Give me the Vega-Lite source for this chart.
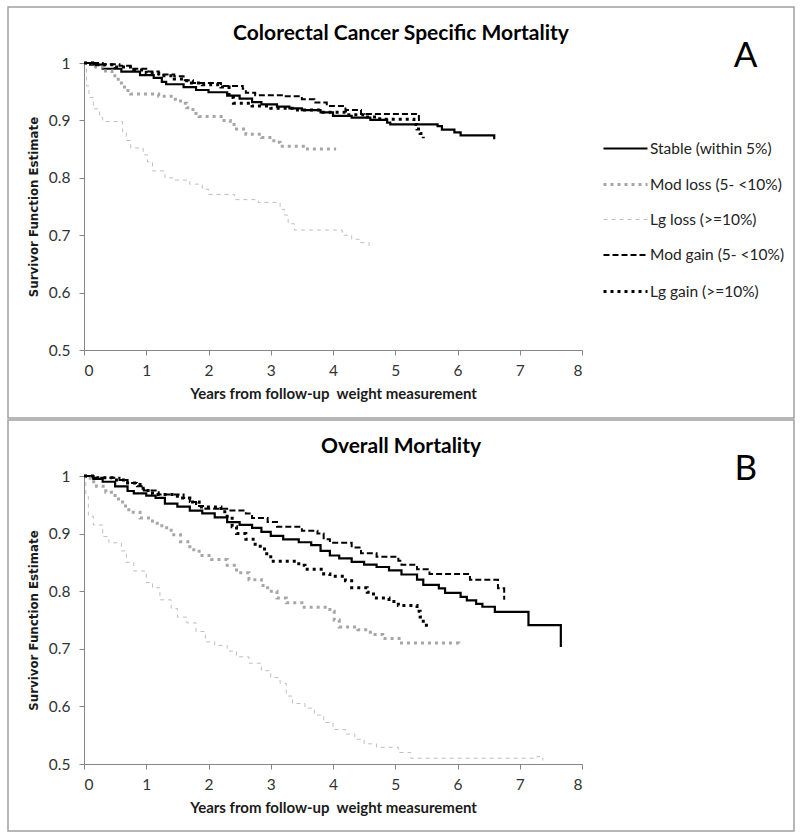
{
  "$schema": "https://vega.github.io/schema/vega-lite/v6.json",
  "padding": {"left": 7, "top": 6, "right": 0, "bottom": 0},
  "background": "white",
  "spacing": 0,
  "config": {
    "view": {"stroke": "#a0a0a0", "strokeWidth": 1.5},
    "axis": {"grid": false, "domainColor": "#868686", "tickColor": "#868686", "tickSize": 5, "labelFont": "Lato", "labelFontSize": 15.5, "labelColor": "#333333", "titleColor": "#1a1a1a"}
  },
  "datasets": {
    "km": [
      {"panel":"A","group":"Stable (within 5%)","years":0,"surv":1},
      {"panel":"A","group":"Stable (within 5%)","years":0.1,"surv":0.997},
      {"panel":"A","group":"Stable (within 5%)","years":0.3,"surv":0.99},
      {"panel":"A","group":"Stable (within 5%)","years":0.6,"surv":0.985},
      {"panel":"A","group":"Stable (within 5%)","years":0.9,"surv":0.979},
      {"panel":"A","group":"Stable (within 5%)","years":1.12,"surv":0.974},
      {"panel":"A","group":"Stable (within 5%)","years":1.25,"surv":0.967},
      {"panel":"A","group":"Stable (within 5%)","years":1.32,"surv":0.963},
      {"panel":"A","group":"Stable (within 5%)","years":1.6,"surv":0.958},
      {"panel":"A","group":"Stable (within 5%)","years":1.8,"surv":0.953},
      {"panel":"A","group":"Stable (within 5%)","years":2.0,"surv":0.949},
      {"panel":"A","group":"Stable (within 5%)","years":2.3,"surv":0.943},
      {"panel":"A","group":"Stable (within 5%)","years":2.5,"surv":0.938},
      {"panel":"A","group":"Stable (within 5%)","years":2.7,"surv":0.932},
      {"panel":"A","group":"Stable (within 5%)","years":2.85,"surv":0.928},
      {"panel":"A","group":"Stable (within 5%)","years":3.1,"surv":0.924},
      {"panel":"A","group":"Stable (within 5%)","years":3.3,"surv":0.921},
      {"panel":"A","group":"Stable (within 5%)","years":3.5,"surv":0.918},
      {"panel":"A","group":"Stable (within 5%)","years":3.8,"surv":0.914},
      {"panel":"A","group":"Stable (within 5%)","years":4.0,"surv":0.908},
      {"panel":"A","group":"Stable (within 5%)","years":4.3,"surv":0.905},
      {"panel":"A","group":"Stable (within 5%)","years":4.6,"surv":0.901},
      {"panel":"A","group":"Stable (within 5%)","years":4.87,"surv":0.896},
      {"panel":"A","group":"Stable (within 5%)","years":4.92,"surv":0.893},
      {"panel":"A","group":"Stable (within 5%)","years":5.68,"surv":0.89},
      {"panel":"A","group":"Stable (within 5%)","years":5.75,"surv":0.884},
      {"panel":"A","group":"Stable (within 5%)","years":5.95,"surv":0.879},
      {"panel":"A","group":"Stable (within 5%)","years":6.05,"surv":0.874},
      {"panel":"A","group":"Stable (within 5%)","years":6.59,"surv":0.867},

      {"panel":"A","group":"Mod loss (5- <10%)","years":0,"surv":1},
      {"panel":"A","group":"Mod loss (5- <10%)","years":0.15,"surv":0.993},
      {"panel":"A","group":"Mod loss (5- <10%)","years":0.32,"surv":0.986},
      {"panel":"A","group":"Mod loss (5- <10%)","years":0.45,"surv":0.978},
      {"panel":"A","group":"Mod loss (5- <10%)","years":0.55,"surv":0.965},
      {"panel":"A","group":"Mod loss (5- <10%)","years":0.65,"surv":0.952},
      {"panel":"A","group":"Mod loss (5- <10%)","years":0.75,"surv":0.946},
      {"panel":"A","group":"Mod loss (5- <10%)","years":1.2,"surv":0.942},
      {"panel":"A","group":"Mod loss (5- <10%)","years":1.4,"surv":0.937},
      {"panel":"A","group":"Mod loss (5- <10%)","years":1.55,"surv":0.93},
      {"panel":"A","group":"Mod loss (5- <10%)","years":1.65,"surv":0.922},
      {"panel":"A","group":"Mod loss (5- <10%)","years":1.75,"surv":0.912},
      {"panel":"A","group":"Mod loss (5- <10%)","years":1.85,"surv":0.907},
      {"panel":"A","group":"Mod loss (5- <10%)","years":2.25,"surv":0.9},
      {"panel":"A","group":"Mod loss (5- <10%)","years":2.35,"surv":0.893},
      {"panel":"A","group":"Mod loss (5- <10%)","years":2.45,"surv":0.885},
      {"panel":"A","group":"Mod loss (5- <10%)","years":2.6,"surv":0.876},
      {"panel":"A","group":"Mod loss (5- <10%)","years":2.85,"surv":0.87},
      {"panel":"A","group":"Mod loss (5- <10%)","years":3.05,"surv":0.862},
      {"panel":"A","group":"Mod loss (5- <10%)","years":3.15,"surv":0.855},
      {"panel":"A","group":"Mod loss (5- <10%)","years":3.55,"surv":0.85},
      {"panel":"A","group":"Mod loss (5- <10%)","years":4.05,"surv":0.85},

      {"panel":"A","group":"Lg loss (>=10%)","years":0,"surv":1},
      {"panel":"A","group":"Lg loss (>=10%)","years":0.04,"surv":0.96},
      {"panel":"A","group":"Lg loss (>=10%)","years":0.08,"surv":0.94},
      {"panel":"A","group":"Lg loss (>=10%)","years":0.15,"surv":0.92},
      {"panel":"A","group":"Lg loss (>=10%)","years":0.25,"surv":0.905},
      {"panel":"A","group":"Lg loss (>=10%)","years":0.3,"surv":0.898},
      {"panel":"A","group":"Lg loss (>=10%)","years":0.62,"surv":0.88},
      {"panel":"A","group":"Lg loss (>=10%)","years":0.68,"surv":0.865},
      {"panel":"A","group":"Lg loss (>=10%)","years":0.75,"surv":0.852},
      {"panel":"A","group":"Lg loss (>=10%)","years":0.95,"surv":0.84},
      {"panel":"A","group":"Lg loss (>=10%)","years":1.02,"surv":0.828},
      {"panel":"A","group":"Lg loss (>=10%)","years":1.1,"surv":0.812},
      {"panel":"A","group":"Lg loss (>=10%)","years":1.3,"surv":0.8},
      {"panel":"A","group":"Lg loss (>=10%)","years":1.45,"surv":0.796},
      {"panel":"A","group":"Lg loss (>=10%)","years":1.7,"surv":0.789},
      {"panel":"A","group":"Lg loss (>=10%)","years":1.9,"surv":0.78},
      {"panel":"A","group":"Lg loss (>=10%)","years":2.0,"surv":0.771},
      {"panel":"A","group":"Lg loss (>=10%)","years":2.42,"surv":0.762},
      {"panel":"A","group":"Lg loss (>=10%)","years":2.8,"surv":0.757},
      {"panel":"A","group":"Lg loss (>=10%)","years":3.15,"surv":0.745},
      {"panel":"A","group":"Lg loss (>=10%)","years":3.22,"surv":0.735},
      {"panel":"A","group":"Lg loss (>=10%)","years":3.28,"surv":0.72},
      {"panel":"A","group":"Lg loss (>=10%)","years":3.38,"surv":0.709},
      {"panel":"A","group":"Lg loss (>=10%)","years":4.15,"surv":0.7},
      {"panel":"A","group":"Lg loss (>=10%)","years":4.3,"surv":0.693},
      {"panel":"A","group":"Lg loss (>=10%)","years":4.42,"surv":0.687},
      {"panel":"A","group":"Lg loss (>=10%)","years":4.58,"surv":0.678},

      {"panel":"A","group":"Mod gain (5- <10%)","years":0,"surv":1},
      {"panel":"A","group":"Mod gain (5- <10%)","years":0.3,"surv":0.998},
      {"panel":"A","group":"Mod gain (5- <10%)","years":0.57,"surv":0.995},
      {"panel":"A","group":"Mod gain (5- <10%)","years":0.75,"surv":0.99},
      {"panel":"A","group":"Mod gain (5- <10%)","years":1.0,"surv":0.985},
      {"panel":"A","group":"Mod gain (5- <10%)","years":1.2,"surv":0.98},
      {"panel":"A","group":"Mod gain (5- <10%)","years":1.45,"surv":0.977},
      {"panel":"A","group":"Mod gain (5- <10%)","years":1.6,"surv":0.97},
      {"panel":"A","group":"Mod gain (5- <10%)","years":1.75,"surv":0.965},
      {"panel":"A","group":"Mod gain (5- <10%)","years":2.2,"surv":0.96},
      {"panel":"A","group":"Mod gain (5- <10%)","years":2.55,"surv":0.955},
      {"panel":"A","group":"Mod gain (5- <10%)","years":2.6,"surv":0.948},
      {"panel":"A","group":"Mod gain (5- <10%)","years":2.75,"surv":0.944},
      {"panel":"A","group":"Mod gain (5- <10%)","years":3.2,"surv":0.942},
      {"panel":"A","group":"Mod gain (5- <10%)","years":3.5,"surv":0.937},
      {"panel":"A","group":"Mod gain (5- <10%)","years":3.7,"surv":0.931},
      {"panel":"A","group":"Mod gain (5- <10%)","years":3.9,"surv":0.925},
      {"panel":"A","group":"Mod gain (5- <10%)","years":4.2,"surv":0.918},
      {"panel":"A","group":"Mod gain (5- <10%)","years":4.45,"surv":0.911},
      {"panel":"A","group":"Mod gain (5- <10%)","years":5.38,"surv":0.899},

      {"panel":"A","group":"Lg gain (>=10%)","years":0,"surv":1},
      {"panel":"A","group":"Lg gain (>=10%)","years":0.2,"surv":0.997},
      {"panel":"A","group":"Lg gain (>=10%)","years":0.5,"surv":0.993},
      {"panel":"A","group":"Lg gain (>=10%)","years":0.8,"surv":0.988},
      {"panel":"A","group":"Lg gain (>=10%)","years":1.0,"surv":0.982},
      {"panel":"A","group":"Lg gain (>=10%)","years":1.2,"surv":0.978},
      {"panel":"A","group":"Lg gain (>=10%)","years":1.45,"surv":0.972},
      {"panel":"A","group":"Lg gain (>=10%)","years":1.65,"surv":0.965},
      {"panel":"A","group":"Lg gain (>=10%)","years":1.9,"surv":0.962},
      {"panel":"A","group":"Lg gain (>=10%)","years":2.2,"surv":0.958},
      {"panel":"A","group":"Lg gain (>=10%)","years":2.33,"surv":0.94},
      {"panel":"A","group":"Lg gain (>=10%)","years":2.4,"surv":0.93},
      {"panel":"A","group":"Lg gain (>=10%)","years":2.7,"surv":0.925},
      {"panel":"A","group":"Lg gain (>=10%)","years":3.0,"surv":0.921},
      {"panel":"A","group":"Lg gain (>=10%)","years":3.4,"surv":0.918},
      {"panel":"A","group":"Lg gain (>=10%)","years":3.8,"surv":0.914},
      {"panel":"A","group":"Lg gain (>=10%)","years":4.2,"surv":0.91},
      {"panel":"A","group":"Lg gain (>=10%)","years":4.5,"surv":0.906},
      {"panel":"A","group":"Lg gain (>=10%)","years":4.75,"surv":0.902},
      {"panel":"A","group":"Lg gain (>=10%)","years":5.3,"surv":0.893},
      {"panel":"A","group":"Lg gain (>=10%)","years":5.35,"surv":0.885},
      {"panel":"A","group":"Lg gain (>=10%)","years":5.4,"surv":0.877},
      {"panel":"A","group":"Lg gain (>=10%)","years":5.45,"surv":0.869},

      {"panel":"B","group":"Stable (within 5%)","years":0,"surv":1},
      {"panel":"B","group":"Stable (within 5%)","years":0.15,"surv":0.995},
      {"panel":"B","group":"Stable (within 5%)","years":0.3,"surv":0.99},
      {"panel":"B","group":"Stable (within 5%)","years":0.5,"surv":0.982},
      {"panel":"B","group":"Stable (within 5%)","years":0.7,"surv":0.974},
      {"panel":"B","group":"Stable (within 5%)","years":0.8,"surv":0.97},
      {"panel":"B","group":"Stable (within 5%)","years":1.0,"surv":0.966},
      {"panel":"B","group":"Stable (within 5%)","years":1.15,"surv":0.962},
      {"panel":"B","group":"Stable (within 5%)","years":1.3,"surv":0.952},
      {"panel":"B","group":"Stable (within 5%)","years":1.5,"surv":0.947},
      {"panel":"B","group":"Stable (within 5%)","years":1.7,"surv":0.94},
      {"panel":"B","group":"Stable (within 5%)","years":1.9,"surv":0.935},
      {"panel":"B","group":"Stable (within 5%)","years":2.1,"surv":0.928},
      {"panel":"B","group":"Stable (within 5%)","years":2.3,"surv":0.92},
      {"panel":"B","group":"Stable (within 5%)","years":2.5,"surv":0.915},
      {"panel":"B","group":"Stable (within 5%)","years":2.7,"surv":0.91},
      {"panel":"B","group":"Stable (within 5%)","years":2.85,"surv":0.903},
      {"panel":"B","group":"Stable (within 5%)","years":3.0,"surv":0.896},
      {"panel":"B","group":"Stable (within 5%)","years":3.2,"surv":0.89},
      {"panel":"B","group":"Stable (within 5%)","years":3.45,"surv":0.885},
      {"panel":"B","group":"Stable (within 5%)","years":3.65,"surv":0.88},
      {"panel":"B","group":"Stable (within 5%)","years":3.8,"surv":0.87},
      {"panel":"B","group":"Stable (within 5%)","years":3.95,"surv":0.862},
      {"panel":"B","group":"Stable (within 5%)","years":4.1,"surv":0.857},
      {"panel":"B","group":"Stable (within 5%)","years":4.3,"surv":0.851},
      {"panel":"B","group":"Stable (within 5%)","years":4.5,"surv":0.846},
      {"panel":"B","group":"Stable (within 5%)","years":4.7,"surv":0.842},
      {"panel":"B","group":"Stable (within 5%)","years":4.9,"surv":0.836},
      {"panel":"B","group":"Stable (within 5%)","years":5.1,"surv":0.829},
      {"panel":"B","group":"Stable (within 5%)","years":5.35,"surv":0.82},
      {"panel":"B","group":"Stable (within 5%)","years":5.45,"surv":0.811},
      {"panel":"B","group":"Stable (within 5%)","years":5.7,"surv":0.805},
      {"panel":"B","group":"Stable (within 5%)","years":5.8,"surv":0.797},
      {"panel":"B","group":"Stable (within 5%)","years":6.05,"surv":0.79},
      {"panel":"B","group":"Stable (within 5%)","years":6.15,"surv":0.784},
      {"panel":"B","group":"Stable (within 5%)","years":6.3,"surv":0.778},
      {"panel":"B","group":"Stable (within 5%)","years":6.4,"surv":0.773},
      {"panel":"B","group":"Stable (within 5%)","years":6.6,"surv":0.764},
      {"panel":"B","group":"Stable (within 5%)","years":7.14,"surv":0.741},
      {"panel":"B","group":"Stable (within 5%)","years":7.66,"surv":0.703},

      {"panel":"B","group":"Mod loss (5- <10%)","years":0,"surv":1},
      {"panel":"B","group":"Mod loss (5- <10%)","years":0.1,"surv":0.99},
      {"panel":"B","group":"Mod loss (5- <10%)","years":0.2,"surv":0.982},
      {"panel":"B","group":"Mod loss (5- <10%)","years":0.35,"surv":0.972},
      {"panel":"B","group":"Mod loss (5- <10%)","years":0.5,"surv":0.96},
      {"panel":"B","group":"Mod loss (5- <10%)","years":0.62,"surv":0.948},
      {"panel":"B","group":"Mod loss (5- <10%)","years":0.72,"surv":0.937},
      {"panel":"B","group":"Mod loss (5- <10%)","years":0.9,"surv":0.927},
      {"panel":"B","group":"Mod loss (5- <10%)","years":1.1,"surv":0.918},
      {"panel":"B","group":"Mod loss (5- <10%)","years":1.25,"surv":0.91},
      {"panel":"B","group":"Mod loss (5- <10%)","years":1.4,"surv":0.898},
      {"panel":"B","group":"Mod loss (5- <10%)","years":1.55,"surv":0.886},
      {"panel":"B","group":"Mod loss (5- <10%)","years":1.7,"surv":0.872},
      {"panel":"B","group":"Mod loss (5- <10%)","years":1.85,"surv":0.862},
      {"panel":"B","group":"Mod loss (5- <10%)","years":2.05,"surv":0.855},
      {"panel":"B","group":"Mod loss (5- <10%)","years":2.3,"surv":0.845},
      {"panel":"B","group":"Mod loss (5- <10%)","years":2.45,"surv":0.832},
      {"panel":"B","group":"Mod loss (5- <10%)","years":2.65,"surv":0.82},
      {"panel":"B","group":"Mod loss (5- <10%)","years":2.85,"surv":0.81},
      {"panel":"B","group":"Mod loss (5- <10%)","years":2.95,"surv":0.8},
      {"panel":"B","group":"Mod loss (5- <10%)","years":3.1,"surv":0.788},
      {"panel":"B","group":"Mod loss (5- <10%)","years":3.25,"surv":0.78},
      {"panel":"B","group":"Mod loss (5- <10%)","years":3.5,"surv":0.772},
      {"panel":"B","group":"Mod loss (5- <10%)","years":3.95,"surv":0.765},
      {"panel":"B","group":"Mod loss (5- <10%)","years":4.02,"surv":0.75},
      {"panel":"B","group":"Mod loss (5- <10%)","years":4.1,"surv":0.738},
      {"panel":"B","group":"Mod loss (5- <10%)","years":4.4,"surv":0.733},
      {"panel":"B","group":"Mod loss (5- <10%)","years":4.6,"surv":0.725},
      {"panel":"B","group":"Mod loss (5- <10%)","years":4.8,"surv":0.718},
      {"panel":"B","group":"Mod loss (5- <10%)","years":5.1,"surv":0.71},
      {"panel":"B","group":"Mod loss (5- <10%)","years":6.02,"surv":0.704},

      {"panel":"B","group":"Lg loss (>=10%)","years":0,"surv":1},
      {"panel":"B","group":"Lg loss (>=10%)","years":0.03,"surv":0.965},
      {"panel":"B","group":"Lg loss (>=10%)","years":0.07,"surv":0.93},
      {"panel":"B","group":"Lg loss (>=10%)","years":0.15,"surv":0.915},
      {"panel":"B","group":"Lg loss (>=10%)","years":0.3,"surv":0.895},
      {"panel":"B","group":"Lg loss (>=10%)","years":0.4,"surv":0.884},
      {"panel":"B","group":"Lg loss (>=10%)","years":0.6,"surv":0.87},
      {"panel":"B","group":"Lg loss (>=10%)","years":0.68,"surv":0.85},
      {"panel":"B","group":"Lg loss (>=10%)","years":0.8,"surv":0.835},
      {"panel":"B","group":"Lg loss (>=10%)","years":1.0,"surv":0.815},
      {"panel":"B","group":"Lg loss (>=10%)","years":1.1,"surv":0.806},
      {"panel":"B","group":"Lg loss (>=10%)","years":1.22,"surv":0.785},
      {"panel":"B","group":"Lg loss (>=10%)","years":1.4,"surv":0.77},
      {"panel":"B","group":"Lg loss (>=10%)","years":1.5,"surv":0.755},
      {"panel":"B","group":"Lg loss (>=10%)","years":1.65,"surv":0.745},
      {"panel":"B","group":"Lg loss (>=10%)","years":1.8,"surv":0.73},
      {"panel":"B","group":"Lg loss (>=10%)","years":1.95,"surv":0.712},
      {"panel":"B","group":"Lg loss (>=10%)","years":2.1,"surv":0.706},
      {"panel":"B","group":"Lg loss (>=10%)","years":2.3,"surv":0.696},
      {"panel":"B","group":"Lg loss (>=10%)","years":2.45,"surv":0.686},
      {"panel":"B","group":"Lg loss (>=10%)","years":2.65,"surv":0.675},
      {"panel":"B","group":"Lg loss (>=10%)","years":2.85,"surv":0.662},
      {"panel":"B","group":"Lg loss (>=10%)","years":3.0,"surv":0.65},
      {"panel":"B","group":"Lg loss (>=10%)","years":3.15,"surv":0.64},
      {"panel":"B","group":"Lg loss (>=10%)","years":3.25,"surv":0.618},
      {"panel":"B","group":"Lg loss (>=10%)","years":3.35,"surv":0.605},
      {"panel":"B","group":"Lg loss (>=10%)","years":3.55,"surv":0.597},
      {"panel":"B","group":"Lg loss (>=10%)","years":3.7,"surv":0.585},
      {"panel":"B","group":"Lg loss (>=10%)","years":3.85,"surv":0.572},
      {"panel":"B","group":"Lg loss (>=10%)","years":4.0,"surv":0.56},
      {"panel":"B","group":"Lg loss (>=10%)","years":4.2,"surv":0.552},
      {"panel":"B","group":"Lg loss (>=10%)","years":4.35,"surv":0.543},
      {"panel":"B","group":"Lg loss (>=10%)","years":4.5,"surv":0.535},
      {"panel":"B","group":"Lg loss (>=10%)","years":4.7,"surv":0.529},
      {"panel":"B","group":"Lg loss (>=10%)","years":5.05,"surv":0.52},
      {"panel":"B","group":"Lg loss (>=10%)","years":5.25,"surv":0.51},
      {"panel":"B","group":"Lg loss (>=10%)","years":7.28,"surv":0.513},
      {"panel":"B","group":"Lg loss (>=10%)","years":7.37,"surv":0.506},

      {"panel":"B","group":"Mod gain (5- <10%)","years":0,"surv":1},
      {"panel":"B","group":"Mod gain (5- <10%)","years":0.15,"surv":0.997},
      {"panel":"B","group":"Mod gain (5- <10%)","years":0.57,"surv":0.993},
      {"panel":"B","group":"Mod gain (5- <10%)","years":0.7,"surv":0.988},
      {"panel":"B","group":"Mod gain (5- <10%)","years":0.85,"surv":0.982},
      {"panel":"B","group":"Mod gain (5- <10%)","years":0.96,"surv":0.975},
      {"panel":"B","group":"Mod gain (5- <10%)","years":1.2,"surv":0.968},
      {"panel":"B","group":"Mod gain (5- <10%)","years":1.6,"surv":0.962},
      {"panel":"B","group":"Mod gain (5- <10%)","years":1.7,"surv":0.955},
      {"panel":"B","group":"Mod gain (5- <10%)","years":1.8,"surv":0.948},
      {"panel":"B","group":"Mod gain (5- <10%)","years":1.95,"surv":0.943},
      {"panel":"B","group":"Mod gain (5- <10%)","years":2.3,"surv":0.94},
      {"panel":"B","group":"Mod gain (5- <10%)","years":2.6,"surv":0.935},
      {"panel":"B","group":"Mod gain (5- <10%)","years":2.7,"surv":0.927},
      {"panel":"B","group":"Mod gain (5- <10%)","years":2.95,"surv":0.92},
      {"panel":"B","group":"Mod gain (5- <10%)","years":3.1,"surv":0.912},
      {"panel":"B","group":"Mod gain (5- <10%)","years":3.5,"surv":0.905},
      {"panel":"B","group":"Mod gain (5- <10%)","years":3.75,"surv":0.9},
      {"panel":"B","group":"Mod gain (5- <10%)","years":3.85,"surv":0.89},
      {"panel":"B","group":"Mod gain (5- <10%)","years":3.95,"surv":0.884},
      {"panel":"B","group":"Mod gain (5- <10%)","years":4.3,"surv":0.876},
      {"panel":"B","group":"Mod gain (5- <10%)","years":4.45,"surv":0.866},
      {"panel":"B","group":"Mod gain (5- <10%)","years":4.7,"surv":0.86},
      {"panel":"B","group":"Mod gain (5- <10%)","years":5.05,"surv":0.853},
      {"panel":"B","group":"Mod gain (5- <10%)","years":5.1,"surv":0.846},
      {"panel":"B","group":"Mod gain (5- <10%)","years":5.35,"surv":0.838},
      {"panel":"B","group":"Mod gain (5- <10%)","years":5.55,"surv":0.83},
      {"panel":"B","group":"Mod gain (5- <10%)","years":6.2,"surv":0.82},
      {"panel":"B","group":"Mod gain (5- <10%)","years":6.65,"surv":0.805},
      {"panel":"B","group":"Mod gain (5- <10%)","years":6.75,"surv":0.785},

      {"panel":"B","group":"Lg gain (>=10%)","years":0,"surv":1},
      {"panel":"B","group":"Lg gain (>=10%)","years":0.2,"surv":0.997},
      {"panel":"B","group":"Lg gain (>=10%)","years":0.45,"surv":0.993},
      {"panel":"B","group":"Lg gain (>=10%)","years":0.7,"surv":0.988},
      {"panel":"B","group":"Lg gain (>=10%)","years":0.9,"surv":0.982},
      {"panel":"B","group":"Lg gain (>=10%)","years":0.95,"surv":0.975},
      {"panel":"B","group":"Lg gain (>=10%)","years":1.1,"surv":0.968},
      {"panel":"B","group":"Lg gain (>=10%)","years":1.5,"surv":0.962},
      {"panel":"B","group":"Lg gain (>=10%)","years":1.7,"surv":0.955},
      {"panel":"B","group":"Lg gain (>=10%)","years":1.85,"surv":0.946},
      {"panel":"B","group":"Lg gain (>=10%)","years":2.2,"surv":0.938},
      {"panel":"B","group":"Lg gain (>=10%)","years":2.3,"surv":0.93},
      {"panel":"B","group":"Lg gain (>=10%)","years":2.38,"surv":0.912},
      {"panel":"B","group":"Lg gain (>=10%)","years":2.45,"surv":0.9},
      {"panel":"B","group":"Lg gain (>=10%)","years":2.6,"surv":0.89},
      {"panel":"B","group":"Lg gain (>=10%)","years":2.75,"surv":0.878},
      {"panel":"B","group":"Lg gain (>=10%)","years":2.9,"surv":0.865},
      {"panel":"B","group":"Lg gain (>=10%)","years":3.0,"surv":0.852},
      {"panel":"B","group":"Lg gain (>=10%)","years":3.45,"surv":0.845},
      {"panel":"B","group":"Lg gain (>=10%)","years":3.55,"surv":0.838},
      {"panel":"B","group":"Lg gain (>=10%)","years":3.85,"surv":0.83},
      {"panel":"B","group":"Lg gain (>=10%)","years":3.95,"surv":0.826},
      {"panel":"B","group":"Lg gain (>=10%)","years":4.2,"surv":0.818},
      {"panel":"B","group":"Lg gain (>=10%)","years":4.3,"surv":0.806},
      {"panel":"B","group":"Lg gain (>=10%)","years":4.55,"surv":0.798},
      {"panel":"B","group":"Lg gain (>=10%)","years":4.65,"surv":0.788},
      {"panel":"B","group":"Lg gain (>=10%)","years":4.9,"surv":0.782},
      {"panel":"B","group":"Lg gain (>=10%)","years":5.05,"surv":0.775},
      {"panel":"B","group":"Lg gain (>=10%)","years":5.35,"surv":0.765},
      {"panel":"B","group":"Lg gain (>=10%)","years":5.4,"surv":0.755},
      {"panel":"B","group":"Lg gain (>=10%)","years":5.45,"surv":0.745},
      {"panel":"B","group":"Lg gain (>=10%)","years":5.5,"surv":0.736}
    ]
  },
  "vconcat": [
    {
      "width": 786, "height": 411,
      "title": {"text": "Colorectal Cancer Specific Mortality", "anchor": "middle", "frame": "group", "offset": -37, "font": "Lato", "fontSize": 21, "fontWeight": "bold", "color": "#000000"},
      "layer": [
        {
          "data": {"name": "km"},
          "transform": [{"filter": "datum.panel === 'A'"}],
          "mark": {"type": "line", "interpolate": "step-after"},
          "encoding": {
            "x": {"field": "years", "type": "quantitative", "scale": {"domain": [0, 8], "range": [76, 574], "nice": false, "zero": false},
                  "axis": {"offset": -68, "values": [0,1,2,3,4,5,6,7,8], "format": "d", "labelPadding": 8, "title": "Years from follow-up\u00a0 weight measurement", "titleFont": "Lato", "titleFontSize": 15, "titleFontWeight": "bold", "titlePadding": 8}},
            "y": {"field": "surv", "type": "quantitative", "scale": {"domain": [0.5, 1], "range": [343, 56], "nice": false, "zero": false},
                  "axis": {"offset": -76, "values": [0.5,0.6,0.7,0.8,0.9,1], "labelExpr": "datum.value == 1 ? '1' : format(datum.value, '.1f')", "labelPadding": 9, "title": "Survivor Function Estimate", "titleFont": "DejaVu Sans", "titleFontSize": 11.8, "titleFontWeight": "bold", "titlePadding": 9}},
            "color": {"field": "group", "type": "nominal",
                      "scale": {"domain": ["Stable (within 5%)", "Mod loss (5- <10%)", "Lg loss (>=10%)", "Mod gain (5- <10%)", "Lg gain (>=10%)"], "range": ["#000000", "#a6a6a6", "#bfbfbf", "#000000", "#000000"]},
                      "legend": {"orient": "none", "legendX": 594, "legendY": 118, "title": null, "symbolType": "stroke", "symbolSize": 1936, "labelFont": "Lato", "labelFontSize": 15.5, "labelColor": "#222222", "labelOffset": 1, "rowPadding": 4, "padding": 0}},
            "strokeDash": {"field": "group", "type": "nominal",
                      "scale": {"domain": ["Stable (within 5%)", "Mod loss (5- <10%)", "Lg loss (>=10%)", "Mod gain (5- <10%)", "Lg gain (>=10%)"], "range": [[1,0],[3,4],[4,4],[6,3],[3,4]]}},
            "strokeWidth": {"field": "group", "type": "nominal",
                      "scale": {"type": "ordinal", "domain": ["Stable (within 5%)", "Mod loss (5- <10%)", "Lg loss (>=10%)", "Mod gain (5- <10%)", "Lg gain (>=10%)"], "range": [2.2, 3, 1, 2, 3]}}
          }
        },
        {
          "data": {"values": [{"label": "A"}]},
          "mark": {"type": "text", "font": "Lato", "fontSize": 35, "color": "#000000"},
          "encoding": {"text": {"field": "label"}, "x": {"datum": 10.63}, "y": {"datum": 1.013}}
        }
      ]
    },
    {
      "width": 786, "height": 411,
      "title": {"text": "Overall Mortality", "anchor": "middle", "frame": "group", "offset": -37, "font": "Lato", "fontSize": 21, "fontWeight": "bold", "color": "#000000"},
      "layer": [
        {
          "data": {"name": "km"},
          "transform": [{"filter": "datum.panel === 'B'"}],
          "mark": {"type": "line", "interpolate": "step-after"},
          "encoding": {
            "x": {"field": "years", "type": "quantitative", "scale": {"domain": [0, 8], "range": [76, 574], "nice": false, "zero": false},
                  "axis": {"offset": -67, "values": [0,1,2,3,4,5,6,7,8], "format": "d", "labelPadding": 8, "title": "Years from follow-up\u00a0 weight measurement", "titleFont": "Lato", "titleFontSize": 15, "titleFontWeight": "bold", "titlePadding": 8}},
            "y": {"field": "surv", "type": "quantitative", "scale": {"domain": [0.5, 1], "range": [344, 56], "nice": false, "zero": false},
                  "axis": {"offset": -76, "values": [0.5,0.6,0.7,0.8,0.9,1], "labelExpr": "datum.value == 1 ? '1' : format(datum.value, '.1f')", "labelPadding": 9, "title": "Survivor Function Estimate", "titleFont": "DejaVu Sans", "titleFontSize": 11.8, "titleFontWeight": "bold", "titlePadding": 9}},
            "color": {"field": "group", "type": "nominal",
                      "scale": {"domain": ["Stable (within 5%)", "Mod loss (5- <10%)", "Lg loss (>=10%)", "Mod gain (5- <10%)", "Lg gain (>=10%)"], "range": ["#000000", "#a6a6a6", "#bfbfbf", "#000000", "#000000"]},
                      "legend": {"orient": "none", "legendX": 594, "legendY": 118, "title": null, "symbolType": "stroke", "symbolSize": 1936, "labelFont": "Lato", "labelFontSize": 15.5, "labelColor": "#222222", "labelOffset": 1, "rowPadding": 4, "padding": 0}},
            "strokeDash": {"field": "group", "type": "nominal",
                      "scale": {"domain": ["Stable (within 5%)", "Mod loss (5- <10%)", "Lg loss (>=10%)", "Mod gain (5- <10%)", "Lg gain (>=10%)"], "range": [[1,0],[3,4],[4,4],[6,3],[3,4]]}},
            "strokeWidth": {"field": "group", "type": "nominal",
                      "scale": {"type": "ordinal", "domain": ["Stable (within 5%)", "Mod loss (5- <10%)", "Lg loss (>=10%)", "Mod gain (5- <10%)", "Lg gain (>=10%)"], "range": [2.2, 3, 1, 2, 3]}}
          }
        },
        {
          "data": {"values": [{"label": "B"}]},
          "mark": {"type": "text", "font": "Lato", "fontSize": 35, "color": "#000000"},
          "encoding": {"text": {"field": "label"}, "x": {"datum": 10.63}, "y": {"datum": 1.013}}
        }
      ]
    }
  ]
}
